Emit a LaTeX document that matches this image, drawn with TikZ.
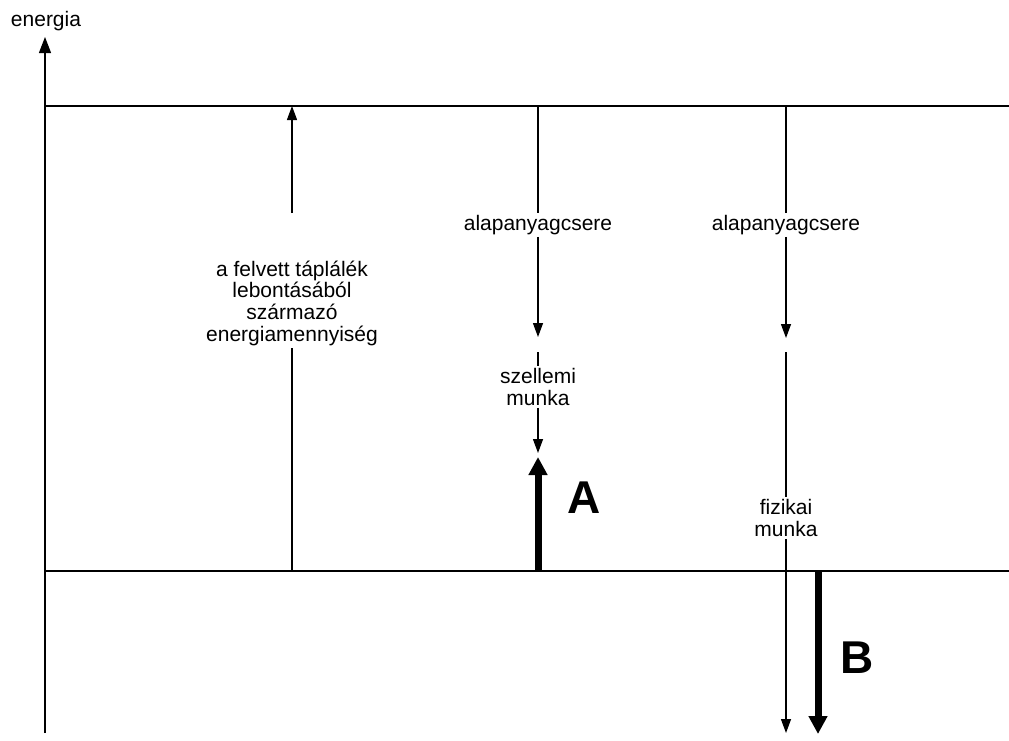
\documentclass[tikz,border=0pt]{standalone}
\usepackage{fontspec}
\setmainfont{Liberation Sans}
\usetikzlibrary{arrows.meta}
\begin{document}
\begin{tikzpicture}[x=1pt,y=-1pt,
  thinline/.style={line width=1.3pt},
  tip/.style={thinline,-{Triangle[length=14pt,width=10pt]}},
  bigtip/.style={line width=7pt,-{Triangle[length=18pt,width=18pt]}},
  lbl/.style={font=\fontsize{21}{21.7}\selectfont, align=center, inner sep=2pt},
  big/.style={font=\fontsize{46}{46}\selectfont\bfseries, inner sep=0pt}]
\useasboundingbox (0,0) rectangle (1009,740);

% axis and level lines
\coordinate (ax0) at (45,733);
\coordinate (axtop) at (45,37);
\draw[tip,-{Triangle[length=16pt,width=12pt]}] (ax0) -- (axtop);
\node[lbl, anchor=base] (energia) at (46,26) {energia};
\coordinate (t0) at (45,106);
\coordinate (t1) at (1009,106);
\coordinate (b0) at (45,571);
\coordinate (b1) at (1009,571);
\draw[thinline] (t0) -- (t1);
\draw[thinline] (b0) -- (b1);

% column 1: food energy
\node[lbl] (food) at (292,303) {a felvett táplálék\\lebontásából\\származó\\energiamennyiség};
\coordinate (f0) at (292,571);
\coordinate (fgap) at (292,213);
\coordinate (ftop) at (292,106);
\draw[thinline] (f0) -- (food.south);
\draw[tip] (fgap) -- (ftop);

% column 2: intellectual work
\coordinate (s0) at (538,106);
\node[lbl] (alap1) at (538,225) {alapanyagcsere};
\coordinate (s1) at (538,337);
\coordinate (s2) at (538,352);
\node[lbl] (szell) at (538,387) {szellemi\\munka};
\coordinate (s3) at (538,453);
\coordinate (a0) at (538,571);
\coordinate (a1) at (538,457);
\draw[thinline] (s0) -- (alap1.north);
\draw[tip] (alap1.south) -- (s1);
\draw[thinline] (s2) -- (szell.north);
\draw[tip] (szell.south) -- (s3);
\draw[bigtip] (a0) -- (a1);
\node[big] (A) at (584,498) {A};

% column 3: physical work
\coordinate (p0) at (786,106);
\node[lbl] (alap2) at (786,225) {alapanyagcsere};
\coordinate (p1) at (786,338);
\coordinate (p2) at (786,352);
\node[lbl] (fiz) at (786,518) {fizikai\\munka};
\coordinate (p3) at (786,733);
\draw[thinline] (p0) -- (alap2.north);
\draw[tip] (alap2.south) -- (p1);
\draw[thinline] (p2) -- (fiz.north);
\draw[tip] (fiz.south) -- (p3);
\coordinate (bb0) at (818,571);
\coordinate (bb1) at (818,734);
\draw[bigtip] (bb0) -- (bb1);
\node[big] (B) at (857,658) {B};
\end{tikzpicture}
\end{document}
